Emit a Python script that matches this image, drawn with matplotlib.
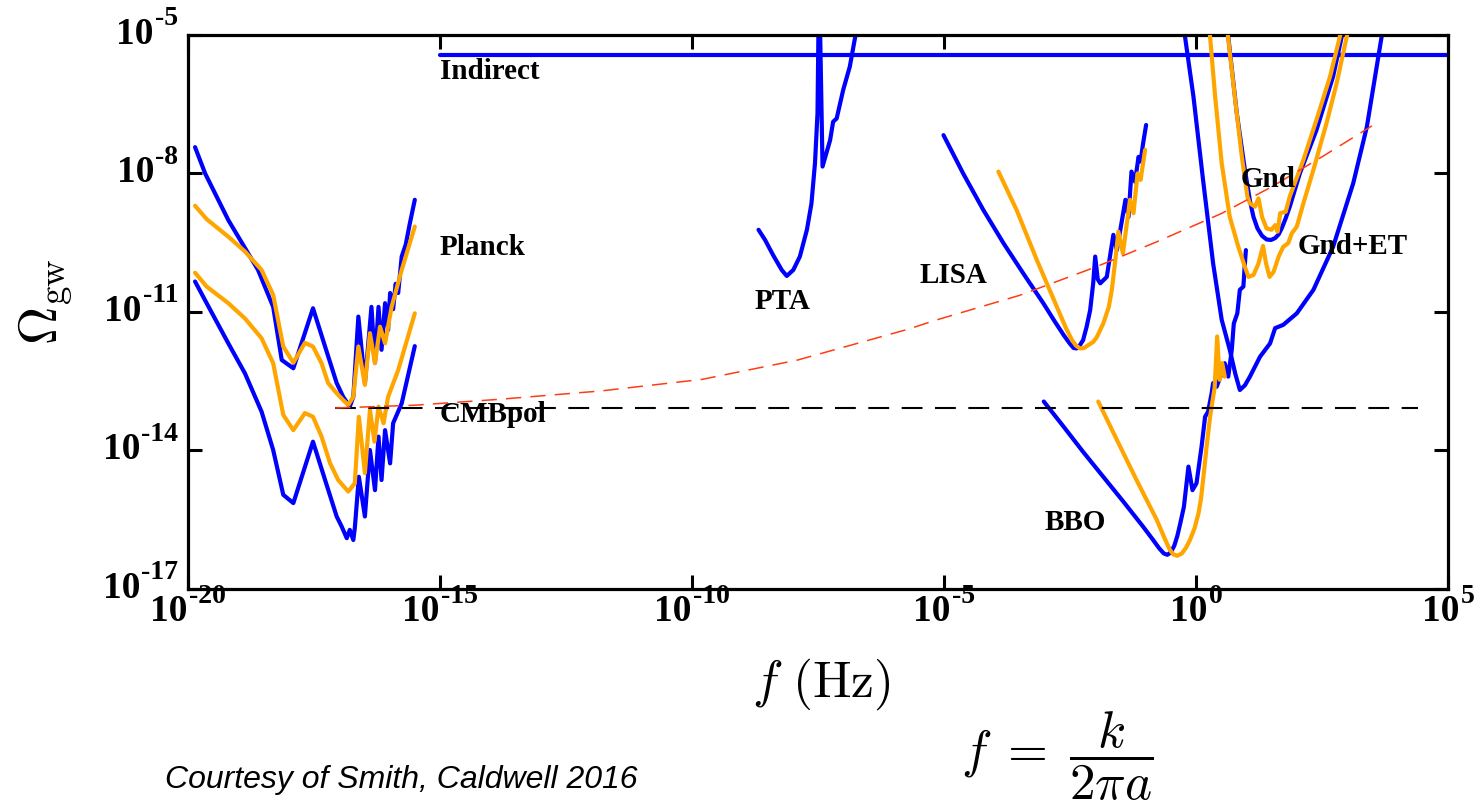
import numpy as np
import matplotlib
matplotlib.use('Agg')
import matplotlib.pyplot as plt
from matplotlib.ticker import FixedLocator, NullLocator, NullFormatter
from matplotlib.offsetbox import TextArea, HPacker, VPacker, DrawingArea, AnnotationBbox

plt.rcParams['font.family'] = ['Liberation Serif', 'DejaVu Sans']

# ---------------- data: log10(f / Hz) and log10(Omega_gw) ----------------
xtick_exp = [-20, -15, -10, -5, 0, 5]
ytick_exp = [-17, -14, -11, -8, -5]

indirect_x = [-15.0, 5.0]
indirect_y = [-5.44, -5.44]

cmbpol_x = [-17.08, 4.40]
cmbpol_y = [-13.08, -13.08]

red_x = [-17.08, -15.5, -13.8, -11.8, -9.8, -7.9, -5.7, -5.2, -3.5, -2.0, -0.8, 0.5, 1.5, 2.5, 3.49]
red_y = [-13.09, -13.03, -12.9, -12.72, -12.47, -12.05, -11.38, -11.20, -10.65, -10.04, -9.50, -8.88, -8.30, -7.65, -6.98]

planck_blue_x = [-19.86, -19.66, -19.20, -18.61, -18.31, -18.14, -17.91, -17.52, -17.28, -17.05, -16.92,
                 -16.79, -16.72, -16.62, -16.49, -16.36, -16.29, -16.22, -16.16, -16.09, -16.03, -15.99,
                 -15.93, -15.88, -15.83, -15.76, -15.68, -15.60, -15.50]
planck_blue_y = [-7.44, -8.01, -9.02, -10.10, -10.90, -12.05, -12.23, -10.93, -11.76, -12.55, -12.85,
                 -13.06, -12.85, -11.11, -12.55, -10.90, -12.11, -10.90, -11.83, -10.82, -11.40, -10.60,
                 -10.95, -10.40, -10.60, -9.81, -9.55, -9.10, -8.58]

planck_orange_x = [-19.86, -19.63, -19.20, -18.87, -18.54, -18.31, -18.11, -17.91, -17.68, -17.52, -17.35,
                   -17.22, -17.05, -16.92, -16.82, -16.72, -16.62, -16.49, -16.39, -16.29, -16.19, -16.09,
                   -15.96, -15.76, -15.50]
planck_orange_y = [-8.71, -9.00, -9.38, -9.70, -10.10, -10.64, -11.76, -12.11, -11.68, -11.76, -12.12,
                   -12.55, -12.77, -12.92, -13.02, -12.85, -11.76, -12.59, -11.47, -12.12, -11.33, -11.69,
                   -10.90, -10.10, -9.16]

cmbpol_orange_x = [-19.86, -19.63, -19.20, -18.87, -18.54, -18.31, -18.11, -17.91, -17.68, -17.52, -17.35,
                   -17.18, -17.02, -16.82, -16.69, -16.61, -16.49, -16.39, -16.30, -16.22, -16.12, -16.03,
                   -15.83, -15.50]
cmbpol_orange_y = [-10.16, -10.46, -10.82, -11.15, -11.58, -12.12, -13.24, -13.57, -13.20, -13.28, -13.71,
                   -14.29, -14.65, -14.90, -14.72, -13.28, -14.50, -13.13, -13.82, -13.06, -13.42, -12.85,
                   -12.27, -11.04]

cmbpol_blue_x = [-19.86, -19.63, -19.20, -18.87, -18.54, -18.31, -18.11, -17.91, -17.52, -17.28, -17.05,
                 -16.95, -16.85, -16.79, -16.72, -16.69, -16.61, -16.49, -16.39, -16.29, -16.22, -16.16,
                 -16.09, -15.99, -15.93, -15.76, -15.50]
cmbpol_blue_y = [-10.35, -10.82, -11.69, -12.34, -13.17, -14.00, -14.97, -15.15, -13.82, -14.65, -15.44,
                 -15.66, -15.91, -15.73, -15.95, -15.69, -14.58, -15.44, -14.00, -14.87, -13.71, -14.65,
                 -13.57, -14.29, -13.42, -12.99, -11.75]

pta_x = [-8.68, -8.55, -8.39, -8.22, -8.12, -7.99, -7.86, -7.72, -7.63, -7.56, -7.51, -7.49, -7.46,
         -7.41, -7.26, -7.20, -7.13, -7.00, -6.87, -6.72]
pta_y = [-9.23, -9.45, -9.78, -10.10, -10.23, -10.10, -9.81, -9.23, -8.66, -7.79, -6.71, -4.80, -4.80,
         -7.86, -7.29, -6.89, -6.82, -6.20, -5.70, -4.80]

lisa_blue_x = [-5.01, -4.62, -4.22, -3.82, -3.43, -3.03, -2.80, -2.62, -2.50, -2.43, -2.37, -2.31, -2.24,
               -2.17, -2.10, -2.04, -2.00, -1.95, -1.90, -1.77, -1.64, -1.57, -1.40, -1.34, -1.28, -1.21,
               -1.14, -1.10, -1.05, -0.99]
lisa_blue_y = [-7.18, -8.01, -8.80, -9.52, -10.17, -10.82, -11.22, -11.52, -11.70, -11.79, -11.80, -11.74,
               -11.62, -11.33, -10.97, -10.39, -9.81, -10.30, -10.39, -10.25, -9.34, -9.67, -8.58, -8.95,
               -7.97, -8.19, -7.65, -7.75, -7.36, -6.96]

lisa_orange_x = [-3.92, -3.56, -3.16, -2.76, -2.58, -2.46, -2.38, -2.30, -2.22, -2.14, -2.04, -1.97, -1.84,
                 -1.73, -1.67, -1.60, -1.54, -1.45, -1.31, -1.24, -1.16, -1.10, -1.01]
lisa_orange_y = [-7.97, -8.80, -9.88, -10.90, -11.36, -11.62, -11.74, -11.80, -11.79, -11.73, -11.66, -11.56,
                 -11.26, -10.90, -10.53, -9.88, -9.27, -9.74, -8.58, -8.87, -8.01, -8.15, -7.50]

bbo_blue_x = [-3.02, -2.63, -2.24, -1.84, -1.44, -1.05, -0.85, -0.73, -0.64, -0.57, -0.50, -0.43, -0.37,
              -0.31, -0.24, -0.15, -0.07, 0.01, 0.11, 0.18, 0.24, 0.31, 0.34, 0.41, 0.51, 0.57, 0.64,
              0.71, 0.75, 0.82, 0.87, 0.94, 0.97, 0.99]
bbo_blue_y = [-12.95, -13.49, -14.04, -14.58, -15.12, -15.66, -15.95, -16.13, -16.24, -16.27, -16.22,
              -16.07, -15.86, -15.58, -15.23, -14.36, -14.87, -14.72, -13.93, -13.28, -13.17, -12.77,
              -12.55, -12.63, -12.34, -12.12, -12.41, -11.83, -11.26, -11.04, -10.53, -10.46, -9.96, -9.67]

bbo_orange_x = [-1.94, -1.57, -1.18, -0.78, -0.62, -0.52, -0.45, -0.37, -0.28, -0.20, -0.12, -0.03, 0.05,
                0.10, 0.14, 0.18, 0.21, 0.28, 0.33, 0.37, 0.42, 0.47, 0.52, 0.57]
bbo_orange_y = [-12.95, -13.78, -14.65, -15.51, -15.92, -16.16, -16.26, -16.29, -16.24, -16.12, -15.95,
                -15.70, -15.37, -15.05, -14.65, -14.25, -13.93, -13.28, -12.92, -12.65, -11.54, -12.48,
                -12.12, -12.41]

wide_blue_x = [-0.25, -0.05, 0.14, 0.34, 0.51, 0.67, 0.78, 0.87, 0.97, 1.07, 1.27, 1.47, 1.57, 1.73,
               2.00, 2.33, 2.72, 3.12, 3.39, 3.72]
wide_blue_y = [-4.80, -6.35, -8.15, -9.96, -11.18, -11.83, -12.35, -12.70, -12.60, -12.41, -11.98,
               -11.69, -11.36, -11.29, -11.04, -10.53, -9.60, -8.22, -7.00, -4.80]

gnd_blue_x = [0.615, 0.81, 0.97, 1.07, 1.14, 1.22, 1.31, 1.40, 1.49, 1.57, 1.64, 1.70, 1.78, 1.86,
              2.06, 2.39, 2.72, 2.94]
gnd_blue_y = [-4.80, -6.71, -7.93, -8.60, -8.95, -9.20, -9.36, -9.44, -9.45, -9.41, -9.33, -9.20,
              -8.98, -8.73, -8.01, -7.07, -5.91, -4.80]

gnd_orange_x = [0.61, 0.77, 0.91, 1.02, 1.07, 1.17, 1.24, 1.31, 1.40, 1.50, 1.57, 1.62, 1.67, 1.78,
                1.86, 2.13, 2.39, 2.66, 2.91]
gnd_orange_y = [-4.80, -6.35, -7.65, -8.51, -8.66, -8.73, -8.55, -8.95, -9.20, -9.23, -9.13, -9.27,
                -8.87, -8.84, -8.51, -7.72, -6.85, -5.91, -4.80]

gndet_orange_x = [0.26, 0.38, 0.51, 0.67, 0.84, 0.97, 1.04, 1.14, 1.24, 1.33, 1.39, 1.46, 1.54, 1.64,
                  1.73, 1.83, 1.90, 2.00, 2.13, 2.33, 2.59, 2.79, 3.04]
gndet_orange_y = [-4.80, -6.35, -7.79, -8.95, -9.60, -10.03, -10.25, -10.21, -9.96, -9.58, -9.96, -10.25,
                  -10.14, -9.81, -9.60, -9.52, -9.31, -9.16, -8.66, -7.93, -6.92, -6.06, -4.80]

labels = ['Indirect', 'Planck', 'CMBpol', 'PTA', 'LISA', 'BBO', 'Gnd', 'Gnd+ET']
label_x = [-15.0, -15.0, -15.0, -8.75, -5.48, -3.00, 0.89, 2.02]
label_y = [-5.81, -9.62, -13.24, -10.79, -10.21, -15.56, -8.15, -9.60]

BLUE = '#0000ff'
ORANGE = '#ffa500'
RED = '#ff3c14'


def P(a):
    return np.power(10.0, np.asarray(a, dtype=float))


def exp_box(e):
    """'10' with a raised exponent, Times-like bold, as an offsetbox."""
    tp_base = dict(fontsize=27, fontweight='bold', family=['Liberation Serif'], color='black')
    tp_sup = dict(fontsize=20, fontweight='bold', family=['Liberation Serif'], color='black')
    base = TextArea('10', textprops=tp_base)
    sup = TextArea(('-%d' % -e) if e < 0 else '%d' % e, textprops=tp_sup)
    sup_col = VPacker(children=[sup, DrawingArea(1, 15.0)], align='left', pad=0, sep=0)
    return HPacker(children=[base, sup_col], align='bottom', pad=0, sep=1)


fig = plt.figure(figsize=(14.8, 8.11), dpi=100)
ax = fig.add_axes([188 / 1480, 1 - 588.5 / 811, 1260 / 1480, 554 / 811])
ax.set_xscale('log')
ax.set_yscale('log')

LW = 3.0
blue_sets = [(indirect_x, indirect_y), (planck_blue_x, planck_blue_y), (cmbpol_blue_x, cmbpol_blue_y),
             (pta_x, pta_y), (lisa_blue_x, lisa_blue_y), (bbo_blue_x, bbo_blue_y),
             (wide_blue_x, wide_blue_y), (gnd_blue_x, gnd_blue_y)]
orange_sets = [(planck_orange_x, planck_orange_y), (cmbpol_orange_x, cmbpol_orange_y),
               (lisa_orange_x, lisa_orange_y), (bbo_orange_x, bbo_orange_y),
               (gnd_orange_x, gnd_orange_y), (gndet_orange_x, gndet_orange_y)]
for xs, ys in blue_sets:
    ax.plot(P(xs), P(ys), color=BLUE, lw=LW, solid_joinstyle='round', solid_capstyle='round', zorder=2)
for xs, ys in orange_sets:
    ax.plot(P(xs), P(ys), color=ORANGE, lw=LW, solid_joinstyle='round', solid_capstyle='round', zorder=3)

ax.plot(P(cmbpol_x), P(cmbpol_y), color='black', lw=1.5, dashes=(10, 6), zorder=4)
ax.plot(P(red_x), P(red_y), color=RED, lw=1.1, dashes=(10, 6), zorder=5)

for t, lx, ly in zip(labels, label_x, label_y):
    ax.text(P(lx), P(ly), t, fontsize=21, fontweight='bold', ha='left', va='center',
            family=['Liberation Serif'], zorder=6)

ax.set_xlim(1e-20, 1e5)
ax.set_ylim(1e-17, 1e-5)
ax.xaxis.set_major_locator(FixedLocator(P(xtick_exp)))
ax.yaxis.set_major_locator(FixedLocator(P(ytick_exp)))
ax.xaxis.set_minor_locator(NullLocator())
ax.yaxis.set_minor_locator(NullLocator())
ax.xaxis.set_major_formatter(NullFormatter())
ax.yaxis.set_major_formatter(NullFormatter())
ax.tick_params(which='major', direction='in', length=10, width=2.2, top=True, right=True,
               labelbottom=False, labelleft=False, colors='black')
for s in ax.spines.values():
    s.set_linewidth(2.3)

# tick labels: 10^n with hyphen-style exponent
for e in xtick_exp:
    fig.add_artist(AnnotationBbox(exp_box(e), (P(e), 0), xycoords=ax.get_xaxis_transform(),
                                  xybox=(0, 3.5), boxcoords='offset points', box_alignment=(0.5, 1.0),
                                  frameon=False, pad=0, annotation_clip=False))
for e in ytick_exp:
    fig.add_artist(AnnotationBbox(exp_box(e), (0, P(e)), xycoords=ax.get_yaxis_transform(),
                                  xybox=(-7, 4), boxcoords='offset points', box_alignment=(1.0, 0.5),
                                  frameon=False, pad=0, annotation_clip=False))

fig.text(46 / 1480, 1 - 302 / 811, r'$\Omega_{\rm gw}$', rotation=90, fontsize=38,
         math_fontfamily='cm', ha='center', va='center')
fig.text(821 / 1480, 1 - 684 / 811, r'$f\ (\mathrm{Hz})$', fontsize=37,
         math_fontfamily='cm', ha='center', va='center')
fig.text(1057 / 1480, 1 - 756 / 811, r'$f\;=\;\dfrac{k}{2\pi a}$', fontsize=37,
         math_fontfamily='cm', ha='center', va='center')
fig.text(165 / 1480, 1 - 780 / 811, 'Courtesy of Smith, Caldwell 2016', fontsize=23,
         style='italic', family=['Liberation Sans'], ha='left', va='center')

fig.savefig('out.png', dpi=100)
